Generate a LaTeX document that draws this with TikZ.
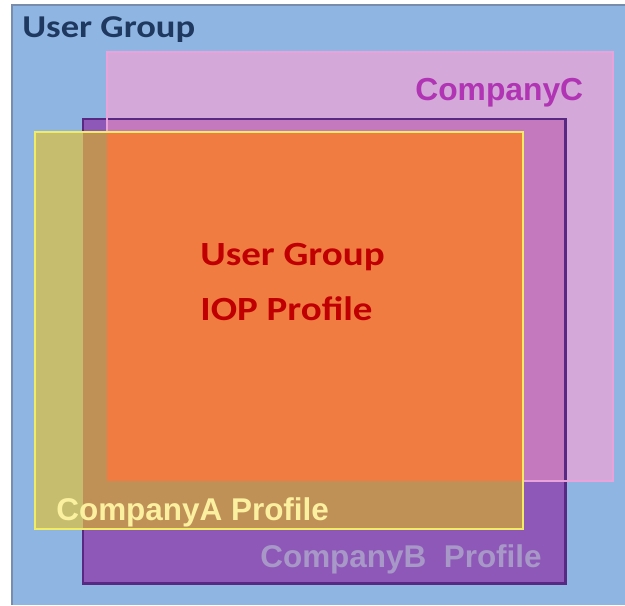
\documentclass[tikz,border=0pt]{standalone}
\usepackage{fontspec}
\newfontfamily\calfont[FakeStretch=1.15]{Carlito}
\newfontfamily\arialfont{Liberation Sans}
\usetikzlibrary{positioning}

\definecolor{ugblue}{RGB}{143,181,226}
\definecolor{ugframe}{RGB}{120,140,172}
\definecolor{ugtitle}{RGB}{31,56,96}
\definecolor{cfill}{RGB}{212,168,216}
\definecolor{cedge}{RGB}{234,162,218}
\definecolor{ctext}{RGB}{176,52,180}
\definecolor{bfill}{RGB}{142,88,184}
\definecolor{bedge}{RGB}{88,40,130}
\definecolor{bcfill}{RGB}{196,120,190}
\definecolor{afill}{RGB}{198,190,110}
\definecolor{aedge}{RGB}{240,236,100}
\definecolor{abfill}{RGB}{192,145,86}
\definecolor{iopfill}{RGB}{240,124,66}
\definecolor{iopedge}{RGB}{250,150,70}
\definecolor{ioptext}{RGB}{192,0,0}
\definecolor{atext}{RGB}{250,240,160}
\definecolor{btext}{RGB}{168,152,200}

\tikzset{
  lbl/.style={inner sep=0, anchor=base west},
  calbold/.style={font=\calfont\bfseries\fontsize{#1}{#1}\selectfont},
  arialbold/.style={font=\arialfont\bfseries\fontsize{#1}{#1}\selectfont}
}

\begin{document}
\begin{tikzpicture}[x=0.02cm, y=-0.02cm]
\useasboundingbox (0,0) rectangle (625,605);
\fill[white] (0,0) rectangle (625,605);
% User Group background
\fill[ugblue] (12,5) rectangle (625,605);
\draw[ugframe, line width=1.2pt] (12,605) -- (12,5) -- (625,5);
% CompanyC, CompanyB, CompanyA
\coordinate (c1) at (107,52);  \coordinate (c2) at (613,481);
\coordinate (b1) at (83,119);  \coordinate (b2) at (565,583);
\coordinate (a1) at (35,132);  \coordinate (a2) at (523,529);
\fill[cfill] (c1) rectangle (c2);
\fill[bfill] (b1) rectangle (b2);
\begin{scope}
\clip (c1) rectangle (c2);
\fill[bcfill] (b1) rectangle (b2);
\end{scope}
\draw[bedge, line width=1.7pt] (b1) rectangle (b2);
\draw[cedge, line width=1.2pt] (c1) rectangle (c2);
\fill[afill] (a1) rectangle (a2);
\begin{scope}
\clip (b1) rectangle (b2);
\fill[abfill] (a1) rectangle (a2);
\end{scope}
% IOP profile (common part)
\fill[iopfill] (c1 |- a1) rectangle (a2 |- c2);
\draw[iopedge, line width=0.8pt] (c1 |- a1) -- (a2 |- a1) -- (a2 |- c2);
\draw[aedge, line width=1.3pt] (a1) rectangle (a2);
% Labels
\node[lbl, calbold=18.1, text=ugtitle] (title) at (22,37) {User Group};
\node[lbl, arialbold=18.1, text=ctext] (lblC) at (415,100) {CompanyC};
\node[lbl, calbold=19.3, text=ioptext] (iop1) at (200,265) {User Group};
\node[lbl, calbold=19.3, text=ioptext] (iop2) at (200,320) {IOP Profile};
\node[lbl, arialbold=17.9, text=atext] (lblA) at (56,520) {CompanyA Profile};
\node[lbl, arialbold=17.9, text=btext] (lblB) at (260,567) {CompanyB\ \ Profile};
\end{tikzpicture}
\end{document}
